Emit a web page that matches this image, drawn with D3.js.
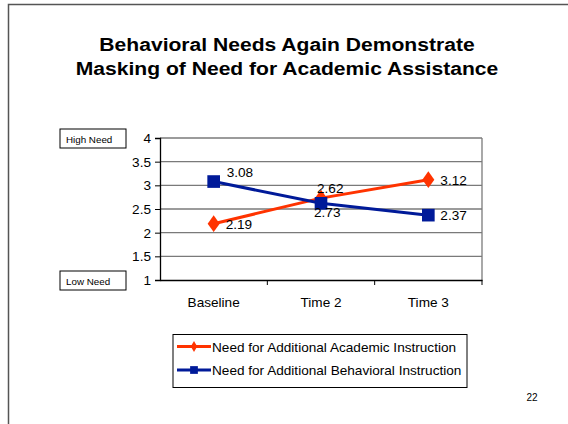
<!DOCTYPE html>
<html lang="en">
<head>
<meta charset="utf-8">
<script src="https://d3js.org/d3.v7.min.js"></script>
<style>
  body { margin: 0; background: #fff; }
  svg { display: block; font-family: "Liberation Sans", Arial, sans-serif; }
</style>
</head>
<body>
<div id="chart"></div>
<script>
// data
var categories = ["Baseline", "Time 2", "Time 3"];
var academic = [2.19, 2.73, 3.12];
var behavioral = [3.08, 2.62, 2.37];
var yTicks = [1, 1.5, 2, 2.5, 3, 3.5, 4];
var seriesNames = ["Need for Additional Academic Instruction", "Need for Additional Behavioral Instruction"];
var titleLines = ["Behavioral Needs Again Demonstrate", "Masking of Need for Academic Assistance"];

// label nudges (pixels) as placed on the slide
var academicLabelOffsets = [[12, 0], [-7, 14], [12, 0]];
var behavioralLabelOffsets = [[13, -10], [-4, -15], [12, 0]];

var W = 568, H = 424;
var plot = {left: 160, top: 138, right: 482, bottom: 280};
var red = "#ff3300", blue = "#001a99";
var fs = "13.6px";

var svg = d3.select("#chart").append("svg")
  .attr("width", W).attr("height", H);

svg.append("rect").attr("width", W).attr("height", H).attr("fill", "#fff");

// slide frame
svg.append("path")
  .attr("d", "M8.5," + H + " V4.5 H" + (W + 2))
  .attr("fill", "none").attr("stroke", "#555").attr("stroke-width", 1.5);

// title, slightly stretched like the slide's font
svg.append("g").selectAll("text")
  .data(titleLines).enter().append("text")
  .attr("transform", (d, i) => "translate(287," + (51 + i * 24) + ") scale(1.11,1)")
  .attr("text-anchor", "middle")
  .attr("font-size", "19px").attr("font-weight", "bold")
  .text(d => d);

var x = d3.scaleBand().domain(categories).range([plot.left, plot.right]);
var y = d3.scaleLinear().domain([1, 4]).range([plot.bottom, plot.top]);

// gridlines
svg.append("g").selectAll("line")
  .data(yTicks.slice(1)).enter().append("line")
  .attr("x1", plot.left).attr("x2", plot.right)
  .attr("y1", d => y(d)).attr("y2", d => y(d))
  .attr("stroke", "#7a7a7a").attr("stroke-width", 1.3);

svg.append("line")
  .attr("x1", plot.right).attr("x2", plot.right)
  .attr("y1", plot.top).attr("y2", plot.bottom)
  .attr("stroke", "#7a7a7a").attr("stroke-width", 1.3);

var yAxis = svg.append("g")
  .attr("transform", "translate(" + plot.left + ",0)")
  .call(d3.axisLeft(y).tickValues(yTicks).tickSize(5).tickPadding(4).tickFormat(d3.format("")));
yAxis.selectAll("text").attr("font-size", fs).attr("fill", "#000").attr("font-family", null);
yAxis.selectAll("line").attr("stroke", "#000");
yAxis.select(".domain").attr("stroke", "#000").attr("stroke-width", 1.3);

var xAxis = svg.append("g")
  .attr("transform", "translate(0," + plot.bottom + ")")
  .call(d3.axisBottom(x).tickSize(0).tickPadding(17));
xAxis.selectAll("text").attr("font-size", fs).attr("fill", "#000").attr("font-family", null);
xAxis.select(".domain").attr("stroke", "#000").attr("stroke-width", 1.3);
// category separators below the axis
xAxis.selectAll(".sep")
  .data(categories.slice(1).concat(["end"])).enter().append("line")
  .attr("x1", (d, i) => i < 2 ? x(d) : plot.right)
  .attr("x2", (d, i) => i < 2 ? x(d) : plot.right)
  .attr("y1", 0).attr("y2", 5)
  .attr("stroke", "#000");

// High / Low need boxes
var boxes = [{t: "High Need", v: 4}, {t: "Low Need", v: 1}];
var bg = svg.append("g").selectAll("g").data(boxes).enter().append("g")
  .attr("transform", d => "translate(60," + (y(d.v) - 9) + ")");
bg.append("rect").attr("width", 66).attr("height", 19)
  .attr("fill", "#fff").attr("stroke", "#000").attr("stroke-width", 1);
bg.append("text").attr("x", 6).attr("y", 13.5).attr("font-size", "9.8px").text(d => d.t);

var cx = c => x(c) + x.bandwidth() / 2;
var line = d3.line().x((d, i) => cx(categories[i])).y(d => y(d));

var series = [
  {vals: academic, color: red, shape: d3.symbolDiamond, size: 80, offs: academicLabelOffsets},
  {vals: behavioral, color: blue, shape: d3.symbolSquare, size: 160, offs: behavioralLabelOffsets}
];

series.forEach(function(s) {
  svg.append("path").attr("d", line(s.vals))
    .attr("fill", "none").attr("stroke", s.color).attr("stroke-width", 3);
});
series.forEach(function(s) {
  svg.append("g").selectAll("path").data(s.vals).enter().append("path")
    .attr("d", d3.symbol().type(s.shape).size(s.size))
    .attr("transform", (d, i) => "translate(" + cx(categories[i]) + "," + y(d) + ")" + (s.shape === d3.symbolDiamond ? " scale(1.25,1)" : ""))
    .attr("fill", s.color);
});
series.forEach(function(s) {
  svg.append("g").selectAll("text").data(s.vals).enter().append("text")
    .attr("x", (d, i) => cx(categories[i]) + s.offs[i][0])
    .attr("y", (d, i) => y(d) + s.offs[i][1] + 5)
    .attr("font-size", fs)
    .text(d => d3.format(".2f")(d));
});

// legend
var lg = svg.append("g").attr("transform", "translate(173,334.5)");
lg.append("rect").attr("width", 294).attr("height", 53)
  .attr("fill", "#fff").attr("stroke", "#000").attr("stroke-width", 1);
var items = lg.selectAll("g.item").data(series).enter().append("g")
  .attr("transform", (d, i) => "translate(4," + (12 + i * 23.5) + ")");
items.append("line").attr("x1", 0).attr("x2", 34).attr("stroke", d => d.color).attr("stroke-width", 3);
items.append("path")
  .attr("d", d => d3.symbol().type(d.shape).size(d.shape === d3.symbolDiamond ? 35 : 60)())
  .attr("transform", "translate(17,0)")
  .attr("fill", d => d.color);
items.append("text").attr("x", 35).attr("y", 5).attr("font-size", fs)
  .text((d, i) => seriesNames[i]);

svg.append("text").attr("x", 532).attr("y", 401).attr("text-anchor", "middle")
  .attr("font-size", "10px").text("22");
</script>
</body>
</html>
